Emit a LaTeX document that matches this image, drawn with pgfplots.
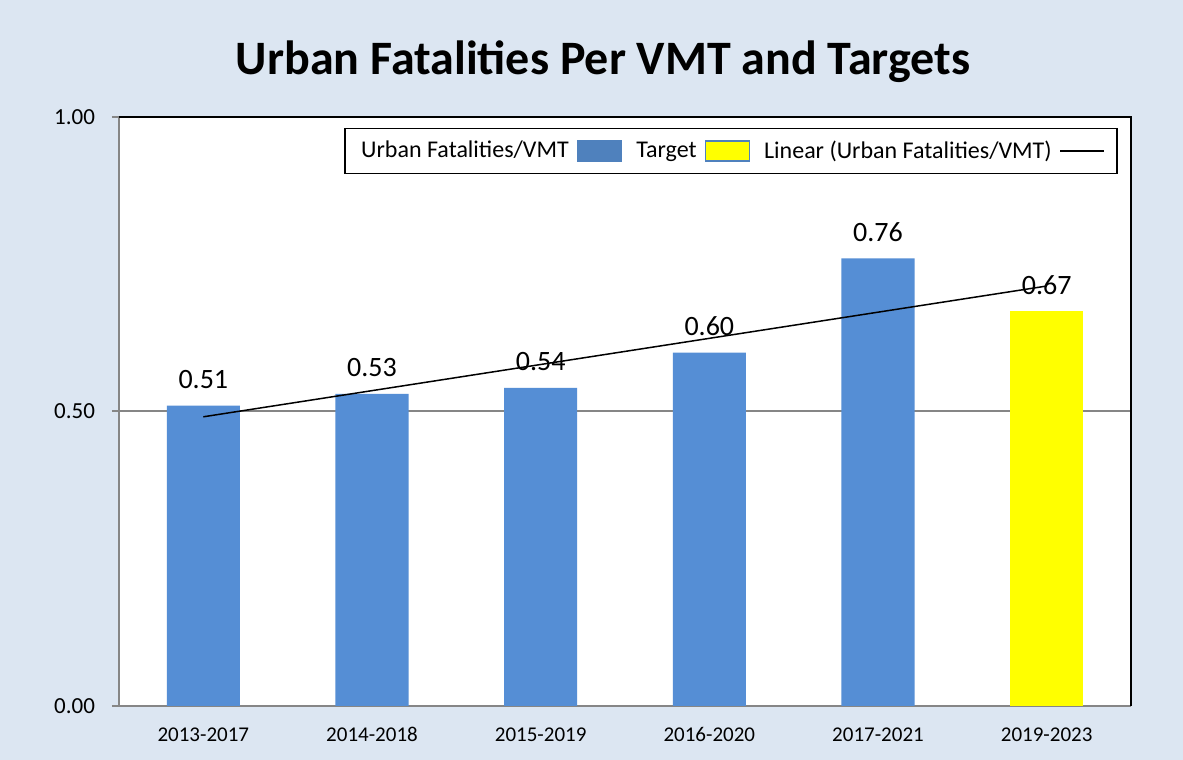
\documentclass[border=0pt]{standalone}
\usepackage{fontspec}
\setmainfont{Carlito}
\usepackage{pgfplots}
\pgfplotsset{compat=1.18}
\usetikzlibrary{calc,backgrounds}
\definecolor{bg}{RGB}{220,230,242}
\definecolor{barblue}{RGB}{85,142,213}
\definecolor{legblue}{RGB}{79,129,189}
\definecolor{axgray}{RGB}{134,134,134}
\definecolor{ylw}{RGB}{255,255,0}
\begin{document}
\begin{tikzpicture}
\begin{axis}[
  scale only axis, width=506pt, height=294.5pt,
  ybar, bar width=0.433,
  xmin=-0.5, xmax=5.5, ymin=0, ymax=1,
  axis background/.style={fill=white},
  axis x line*=bottom, axis y line*=left,
  axis line style={axgray, line width=1pt, -},
  xtick={0,1,2,3,4,5},
  xticklabels={2013-2017,2014-2018,2015-2019,2016-2020,2017-2021,2019-2023},
  x tick label style={font=\fontsize{10.5}{12}\selectfont, yshift=-3pt, text height=7.5pt, text depth=0pt},
  major x tick style={draw=none},
  extra x ticks={-0.5,0.5,1.5,2.5,3.5,4.5,5.5},
  extra x tick labels={},
  extra x tick style={major tick length=3.5pt, tick style={axgray, line width=1pt}},
  ytick={0,0.5,1},
  y tick label style={font=\fontsize{11.5}{13}\selectfont, xshift=-5pt, /pgf/number format/.cd, fixed, fixed zerofill, precision=2},
  /pgf/number format/assume math mode=true,
  tick align=outside,
  major tick length=3.5pt,
  tick style={axgray, line width=1pt},
  ymajorgrids, grid style={axgray, line width=1pt},
  clip=false,
  legend plot pos=right,
  legend columns=3,
  legend style={at={(axis description cs:1,1)}, anchor=north east, xshift=-6.5pt, yshift=-5.5pt,
    draw=black, line width=0.75pt, fill=white, font=\fontsize{12}{14}\selectfont,
    inner xsep=6pt, inner ysep=4pt,
    /tikz/every even column/.append style={column sep=5pt},
    /tikz/every odd column/.append style={column sep=2pt}},
]
\coordinate (O) at (rel axis cs:0,0);
\addplot[fill=barblue, draw=none, bar shift=0,
  nodes near coords={\pgfmathprintnumber[fixed,fixed zerofill,precision=2]{\pgfplotspointmeta}},
  every node near coord/.append style={font=\fontsize{14}{16}\selectfont, black, yshift=5pt},
  legend image code/.code={\draw[fill=legblue, draw=legblue] (0pt,-5pt) rectangle (22pt,5pt);}]
  coordinates {(0,0.51) (1,0.53) (2,0.54) (3,0.60) (4,0.76)};
\addlegendentry{Urban Fatalities/VMT}
\addplot[fill=ylw, draw=none, bar shift=0,
  nodes near coords={\pgfmathprintnumber[fixed,fixed zerofill,precision=2]{\pgfplotspointmeta}},
  every node near coord/.append style={font=\fontsize{14}{16}\selectfont, black, yshift=5pt},
  legend image code/.code={\draw[fill=ylw, draw=legblue] (0pt,-5pt) rectangle (22pt,5pt);}]
  coordinates {(5,0.67)};
\addlegendentry{Target}
\addplot[sharp plot, black, line width=0.75pt, mark=none,
  legend image code/.code={\draw[black, line width=0.75pt] (0pt,0pt) -- (22pt,0pt);}]
  coordinates {(0,0.491) (5,0.713)};
\addlegendentry{Linear (Urban Fatalities/VMT)}
\draw[black, line width=1pt] (rel axis cs:0,1) -- (rel axis cs:1,1) -- (rel axis cs:1,0);
\end{axis}
\begin{scope}[on background layer]
\fill[bg] ($(O)+(-59.5pt,-27pt)$) rectangle ($(O)+(532pt,353pt)$);
\end{scope}
\node[font=\fontsize{24}{28}\selectfont\bfseries] at ($(O)+(242pt,322pt)$) {Urban Fatalities Per VMT and Targets};
\end{tikzpicture}
\end{document}
